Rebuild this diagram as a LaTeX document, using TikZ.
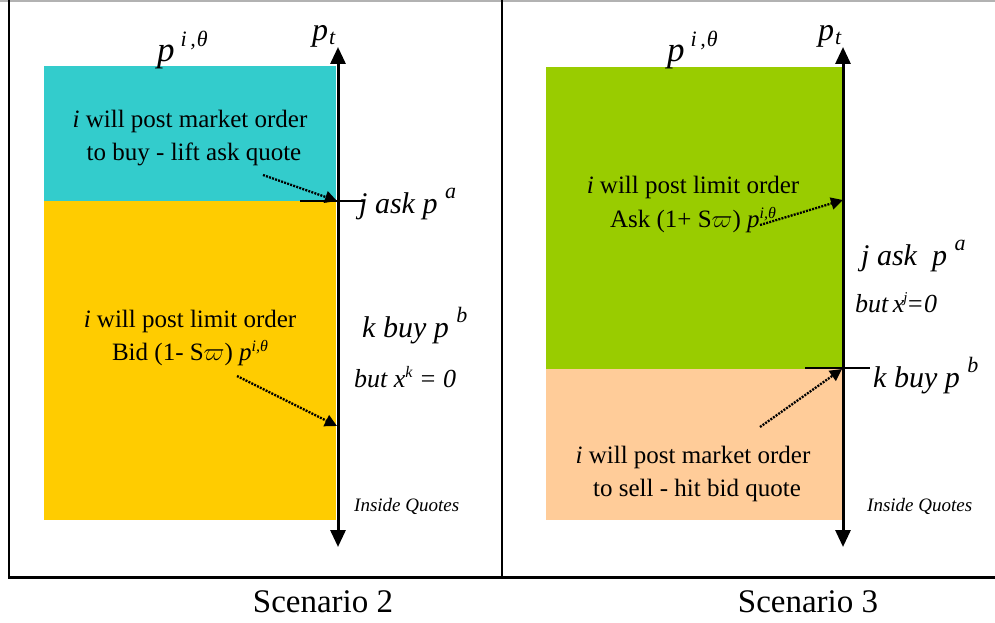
\documentclass[tikz,border=0pt]{standalone}
\usepackage{fontspec}
\setmainfont{LiberationSerif}[Extension=.ttf, UprightFont=*-Regular, ItalicFont=*-Italic, BoldFont=*-Bold, BoldItalicFont=*-BoldItalic]
\usetikzlibrary{arrows.meta}
\newcommand{\upsc}[3]{\raisebox{#1}{\fontsize{#2}{#2}\selectfont\itshape #3}}
\definecolor{cyanbox}{HTML}{33CCCC}
\definecolor{yellowbox}{HTML}{FFCC00}
\definecolor{greenbox}{HTML}{99CC00}
\definecolor{peachbox}{HTML}{FFCC99}
\tikzset{
  boxtext/.style={font=\fontsize{25}{30}\selectfont, anchor=base, inner sep=0pt},
  biglab/.style={font=\fontsize{30}{36}\selectfont\itshape, anchor=base west, inner sep=0pt},
  midlab/.style={font=\fontsize{26}{30}\selectfont\itshape, anchor=base west, inner sep=0pt},
  smalllab/.style={font=\fontsize{19}{22}\selectfont\itshape, anchor=base west, inner sep=0pt},
  title/.style={font=\fontsize{33}{38}\selectfont, anchor=base, inner sep=0pt},
  axisline/.style={line width=3pt, {Triangle[width=15pt,length=17pt]}-{Triangle[width=15pt,length=17pt]}},
  pointer/.style={line width=2.3pt, dash pattern=on 2pt off 1.2pt, -{Triangle[width=12pt,length=12pt]}},
  tickline/.style={line width=1.6pt},
  frame/.style={line width=2.5pt}
}
\begin{document}
\begin{tikzpicture}[x=1pt,y=-1pt]
\useasboundingbox (0,0) rectangle (995,623);
% frame
\draw[gray!60, line width=2pt] (0,1) -- (995,1);
\draw[frame] (9,0) -- (9,577.5) -- (995,577.5);
\draw[line width=2pt] (502,0) -- (502,577.5);

% ---------- Scenario 2 ----------
\fill[cyanbox] (44,66) rectangle (336,201);
\fill[yellowbox] (44,201) rectangle (336,520);
\coordinate (a2top) at (338,47);
\coordinate (a2bot) at (338,547);
\draw[axisline] (a2bot) -- (a2top);
\coordinate (t2l) at (300,201);
\coordinate (t2r) at (365,201);
\coordinate (ask2) at (337,201);
\coordinate (bid2) at (337,426);
\draw[tickline] (t2l) -- (t2r);

\node[biglab, font=\fontsize{35}{36}\selectfont\itshape] (pth2) at (157,62) {p\,\upsc{15pt}{22}{i\,,\kern1pt θ}};
\node[biglab, font=\fontsize{32}{36}\selectfont\itshape] (pt2) at (312,41) {p\kern1pt\upsc{-4pt}{22}{t}};

\node[boxtext] (m2a) at (190,128) {\textit{i} will post market order};
\node[boxtext] (m2b) at (194,160) {to buy - lift ask quote};
\coordinate (m2s) at (263,175);
\draw[pointer] (m2s) -- (ask2);

\node[boxtext] (l2a) at (190,327) {\textit{i} will post limit order};
\node[boxtext] (l2b) at (190,360) {Bid (1- S$\varpi$) \textit{p}\upsc{9pt}{16}{i,θ}};
\coordinate (l2s) at (237,376);
\draw[pointer] (l2s) -- (bid2);

\node[biglab] (ja2) at (359,213) {j ask p \upsc{15pt}{22}{a}};
\node[biglab] (kb2) at (362,337) {k buy p \upsc{15pt}{22}{b}};
\node[midlab] (bx2) at (354,387) {but x\upsc{10pt}{16}{k} = 0};
\node[smalllab] (iq2) at (354,511) {Inside Quotes};
\node[title] (sc2) at (323,612) {Scenario 2};

% ---------- Scenario 3 ----------
\fill[greenbox] (546,67) rectangle (842,369);
\fill[peachbox] (546,369) rectangle (842,520);
\coordinate (a3top) at (843,47);
\coordinate (a3bot) at (843,547);
\draw[axisline] (a3bot) -- (a3top);
\coordinate (t3l) at (805,368);
\coordinate (t3r) at (870,368);
\coordinate (ask3) at (843,200);
\coordinate (bid3) at (842,369);
\draw[tickline] (t3l) -- (t3r);

\node[biglab, font=\fontsize{35}{36}\selectfont\itshape] (pth3) at (667,62) {p\,\upsc{15pt}{22}{i\,,\kern1pt θ}};
\node[biglab, font=\fontsize{32}{36}\selectfont\itshape] (pt3) at (818,41) {p\kern1pt\upsc{-4pt}{22}{t}};

\node[boxtext] (l3a) at (693,193) {\textit{i} will post limit order};
\node[boxtext] (l3b) at (693,227) {Ask (1+ S$\varpi$) \textit{p}\upsc{9pt}{16}{i,θ}};
\coordinate (l3s) at (760,225);
\draw[pointer] (l3s) -- (ask3);

\node[boxtext] (m3a) at (693,463) {\textit{i} will post market order};
\node[boxtext] (m3b) at (697,496) {to sell - hit bid quote};
\coordinate (m3s) at (760,427);
\draw[pointer] (m3s) -- (bid3);

\node[biglab] (ja3) at (861,265) {j ask\ \ p \upsc{15pt}{22}{a}};
\node[midlab] (bx3) at (855,312) {but\,x\kern-1pt\upsc{10pt}{15}{j}\kern-1pt=0};
\node[biglab] (kb3) at (873,387) {k buy p \upsc{15pt}{22}{b}};
\node[smalllab] (iq3) at (867,511) {Inside Quotes};
\node[title] (sc3) at (808,612) {Scenario 3};
\end{tikzpicture}
\end{document}
